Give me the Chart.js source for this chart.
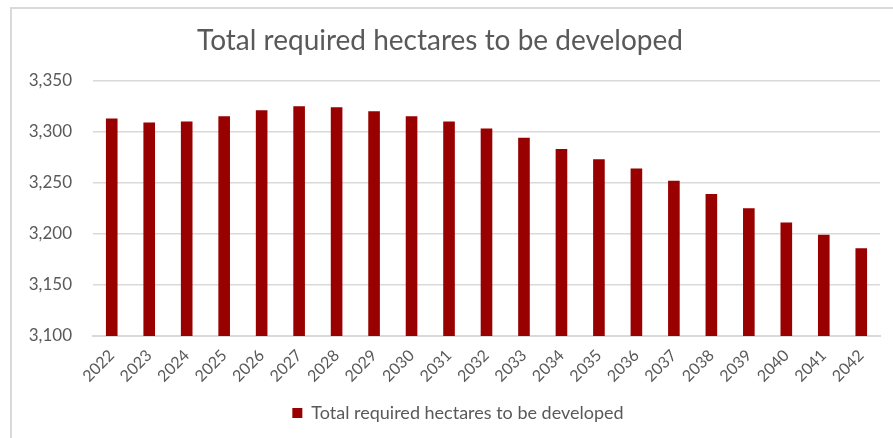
<!DOCTYPE html>
<html>
<head>
<meta charset="utf-8">
<script src="https://cdn.jsdelivr.net/npm/chart.js@4.4.0/dist/chart.umd.min.js"></script>
<style>
  html, body { margin: 0; padding: 0; background: #ffffff; overflow: hidden; }
  #wrap { position: absolute; left: 0; top: 0; width: 893px; height: 438px; }
  #frame { position: absolute; left: 10px; top: 7px; width: 900px; height: 450px;
           border-top: 2px solid #d9d9d9; border-left: 2px solid #d9d9d9; pointer-events: none; }
</style>
</head>
<body>
<div id="wrap"><canvas id="c" width="893" height="438"></canvas></div>
<div id="frame"></div>
<script>
const years = ["2022","2023","2024","2025","2026","2027","2028","2029","2030","2031","2032",
               "2033","2034","2035","2036","2037","2038","2039","2040","2041","2042"];
const hectares = [3313, 3309, 3310, 3315, 3321, 3325, 3324, 3320, 3315, 3310, 3303,
                  3294, 3283, 3273, 3264, 3252, 3239, 3225, 3211, 3199, 3186];
const yTicks = [3100, 3150, 3200, 3250, 3300, 3350];
const seriesName = "Total required hectares to be developed";
const chartTitle = "Total required hectares to be developed";

const grey = "#595959";
const fontFamily = "Lato, 'Open Sans', sans-serif";

const shiftLegend = {
  id: "shiftLegend",
  afterLayout(chart) {
    const lg = chart.legend;
    if (lg) { lg.left += 18; lg.right += 18; }
  }
};

new Chart(document.getElementById("c"), {
  type: "bar",
  data: {
    labels: years,
    datasets: [{
      label: seriesName,
      data: hectares,
      backgroundColor: "#990000",
      borderWidth: 0,
      barPercentage: 0.31,
      categoryPercentage: 1.0
    }]
  },
  plugins: [shiftLegend],
  options: {
    responsive: false,
    animation: false,
    devicePixelRatio: 1,
    layout: { padding: { left: 0, right: 13, top: 24, bottom: 6 } },
    plugins: {
      title: {
        display: true,
        text: chartTitle,
        color: grey,
        font: { family: fontFamily, size: 28, weight: "normal" },
        padding: { top: 0, bottom: 23 }
      },
      legend: {
        display: true,
        position: "bottom",
        labels: {
          color: grey,
          boxWidth: 10,
          boxHeight: 10,
          padding: 6,
          font: { family: fontFamily, size: 18 }
        }
      },
      tooltip: { enabled: false }
    },
    scales: {
      x: {
        grid: { display: false, drawTicks: false },
        border: { display: true, color: "#d9d9d9", width: 2 },
        ticks: {
          color: grey,
          font: { family: fontFamily, size: 16 },
          minRotation: 45,
          maxRotation: 45,
          padding: 10,
          autoSkip: false
        },
        afterFit: (s) => { s.height = 62; }
      },
      y: {
        min: 3100,
        max: 3350,
        afterBuildTicks: (s) => { s.ticks = yTicks.map(v => ({ value: v })); },
        grid: { color: "#d9d9d9", lineWidth: 1.5, drawTicks: false },
        border: { display: false },
        ticks: {
          color: grey,
          font: { family: fontFamily, size: 17 },
          padding: 21,
          callback: (v) => v.toLocaleString("en-US")
        },
        afterFit: (s) => { s.width = 93; }
      }
    }
  }
});
</script>
</body>
</html>
